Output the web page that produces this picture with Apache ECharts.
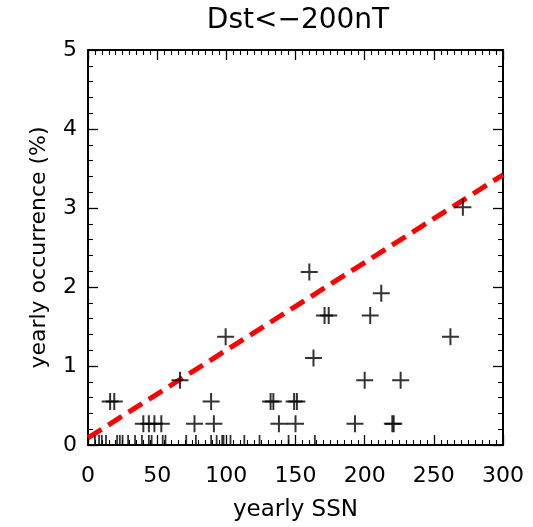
<!DOCTYPE html>
<html>
<head>
<meta charset="utf-8">
<script src="https://cdn.jsdelivr.net/npm/echarts@6/dist/echarts.min.js"></script>
<style>
html,body{margin:0;padding:0;background:#fff;}
#chart{width:533px;height:527px;}
</style>
</head>
<body>
<div id="chart"></div>
<script>
// yearly SSN vs yearly occurrence (%) of Dst < -200 nT
var ssnNonZero = [16, 19, 89, 132, 134, 149, 151,
                  40, 44, 48, 53, 77, 91, 138, 150, 193, 220, 221,
                  66.5, 200, 226,
                  99.5, 262,
                  163,
                  171, 174, 204,
                  212,
                  160,
                  271];
var occNonZero = [0.55, 0.55, 0.55, 0.55, 0.55, 0.55, 0.55,
                  0.27, 0.27, 0.27, 0.27, 0.27, 0.27, 0.27, 0.27, 0.27, 0.27, 0.27,
                  0.82, 0.82, 0.82,
                  1.37, 1.37,
                  1.10,
                  1.64, 1.64, 1.64,
                  1.92,
                  2.19,
                  3.01];
var ssnZero = [5, 8, 10, 13, 21, 23, 25, 29, 34, 39, 44, 46, 54, 56, 71, 78, 89, 93, 97, 98, 103, 113, 124, 145, 164];
var fitX = [0, 300];
var fitY = [0.09, 3.42];
var xTicks = [0, 50, 100, 150, 200, 250, 300];
var yTicks = [0, 1, 2, 3, 4, 5];
var titleText = 'Dst<\u2212200nT';
var xName = 'yearly SSN';
var yName = 'yearly occurrence (%)';

var FONT = 'DejaVu Sans';
var chart = echarts.init(document.getElementById('chart'), null, {renderer: 'canvas'});

function pairs(xs, ys) { return xs.map(function (x, i) { return [x, ys[i]]; }); }
var zeroData = ssnZero.map(function (x) { return [x, 0]; });

function xAx(pos, showLabel) {
  return {
    type: 'value', position: pos, min: xTicks[0], max: xTicks[xTicks.length - 1],
    interval: xTicks[1] - xTicks[0],
    axisLine: {show: true, onZero: false, lineStyle: {color: '#000', width: 2}},
    axisTick: {show: true, inside: true, length: 10, lineStyle: {color: '#000', width: 1.3}},
    minorTick: {show: true, splitNumber: 10, length: 5, lineStyle: {color: '#000', width: 1.1}},
    splitLine: {show: false},
    axisLabel: {show: showLabel, color: '#000', fontFamily: FONT, fontSize: 22, margin: 20},
    name: showLabel ? xName : '', nameLocation: 'middle', nameGap: 54,
    nameTextStyle: {color: '#000', fontFamily: FONT, fontSize: 23}
  };
}
function yAx(pos, showLabel) {
  return {
    type: 'value', position: pos, min: yTicks[0], max: yTicks[yTicks.length - 1],
    interval: yTicks[1] - yTicks[0],
    axisLine: {show: true, onZero: false, lineStyle: {color: '#000', width: 2}},
    axisTick: {show: true, inside: true, length: 10, lineStyle: {color: '#000', width: 1.3}},
    minorTick: {show: true, splitNumber: 5, length: 5, lineStyle: {color: '#000', width: 1.1}},
    splitLine: {show: false},
    axisLabel: {show: showLabel, color: '#000', fontFamily: FONT, fontSize: 22, margin: 11},
    name: showLabel ? yName : '', nameLocation: 'middle', nameGap: 38,
    nameTextStyle: {color: '#000', fontFamily: FONT, fontSize: 22}
  };
}

var plusPath = 'path://M0,7.5h17v2h-17z M7.5,0h2v17h-2z';

chart.setOption({
  animation: false,
  backgroundColor: '#fff',
  title: {
    text: titleText, left: 293, top: 2, textAlign: 'center',
    textStyle: {color: '#000', fontFamily: FONT, fontSize: 28, fontWeight: 'normal'}
  },
  grid: {left: 88, right: 30, top: 50, bottom: 78, containLabel: false},
  xAxis: [xAx('bottom', true), xAx('top', false)],
  yAxis: [yAx('left', true), yAx('right', false)],
  series: [
    {
      type: 'line', xAxisIndex: 0, yAxisIndex: 0,
      data: pairs(fitX, fitY), symbol: 'none', z: 2,
      lineStyle: {color: '#ff0000', width: 5, type: [16, 8]}
    },
    {
      type: 'scatter', xAxisIndex: 0, yAxisIndex: 0,
      data: pairs(ssnNonZero, occNonZero), symbol: plusPath, symbolSize: 17, z: 3,
      itemStyle: {color: '#000'}
    },
    {
      type: 'scatter', xAxisIndex: 0, yAxisIndex: 0, clip: false,
      data: zeroData, symbol: 'rect', symbolSize: [1.8, 10], symbolOffset: [0, -5], z: 3,
      itemStyle: {color: '#000'}
    }
  ]
});
</script>
</body>
</html>
